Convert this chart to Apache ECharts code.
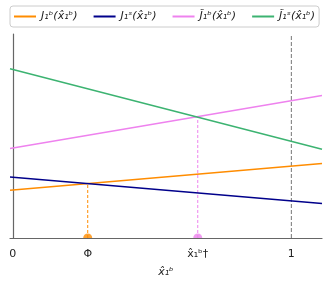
<!DOCTYPE html>
<html><head><meta charset="utf-8">
<script src="https://cdn.jsdelivr.net/npm/echarts@6/dist/echarts.min.js"></script>
<style>html,body{margin:0;padding:0;background:#fff}#c{width:333px;height:285px}</style>
</head><body><div id="c"></div>
<script>
var xEnds = [-0.01, 1.11];
var jb  = [0.234, 0.365];
var js  = [0.299, 0.169];
var jbt = [0.439, 0.699];
var jst = [0.830, 0.435];
var phi = 0.269, phiY = 0.266;
var xdag = 0.664, xdagY = 0.594;
var tickValues = [0, phi, xdag, 1];
var tickLabels = ['0', 'Φ', 'x̂₁ᵇ†', '1'];
var names = ['J₁ᵇ(x̂₁ᵇ)', 'J₁ˢ(x̂₁ᵇ)', 'J̃₁ᵇ(x̂₁ᵇ)', 'J̃₁ˢ(x̂₁ᵇ)'];
var colors = ['#ff8c00', '#00008b', '#ee82ee', '#3cb371'];
var vals = [jb, js, jbt, jst];

function pairs(ys){ return xEnds.map(function(x,i){return [x, ys[i]];}); }

var series = vals.map(function(v,i){
  return {name: names[i], type:'line', data: pairs(v), symbol:'none',
    lineStyle:{color:colors[i], width:1.5}, itemStyle:{color:colors[i]}, z:3};
});
series.push({type:'line', data:[[phi,0],[phi,phiY]], symbol:'none',
  lineStyle:{color:colors[0], width:1, type:[3,2]}, z:2});
series.push({type:'line', data:[[xdag,0],[xdag,xdagY]], symbol:'none',
  lineStyle:{color:colors[2], width:1, type:[3,2]}, z:2});
series.push({type:'line', data:[[1,0],[1,1]], symbol:'none',
  lineStyle:{color:'#777', width:1, type:[4,2]}, z:2});
var half = 'path://M0,10 A10,10 0 0 1 20,10 Z';
series.push({type:'scatter', data:[[phi,0]], symbol:half, symbolSize:[9,4.5], symbolOffset:[0,'-50%'],
  itemStyle:{color:colors[0]}, z:4});
series.push({type:'scatter', data:[[xdag,0]], symbol:half, symbolSize:[9,4.5], symbolOffset:[0,'-50%'],
  itemStyle:{color:colors[2]}, z:4});

var chart = echarts.init(document.getElementById('c'));
chart.setOption({
  animation:false,
  grid:{left:10, right:11, top:34, bottom:47, containLabel:false},
  legend:{data:names, top:6, left:10, right:11, width:312,
    itemWidth:22, itemHeight:2, itemGap:16,
    borderColor:'#ccc', borderWidth:1, borderRadius:3, padding:[5,4],
    icon:'rect',
    textStyle:{fontFamily:'DejaVu Sans', fontStyle:'italic', fontSize:11, color:'#222'}},
  xAxis:{type:'value', min:xEnds[0], max:xEnds[1],
    name:'x̂₁ᵇ', nameLocation:'middle', nameGap:29,
    nameTextStyle:{fontFamily:'DejaVu Sans', fontStyle:'italic', fontSize:11, color:'#222'},
    axisLine:{lineStyle:{color:'#666', width:1.2}},
    axisTick:{show:false},
    splitLine:{show:false},
    axisLabel:{customValues:tickValues, margin:11,
      fontFamily:'DejaVu Sans', fontSize:11, color:'#222',
      formatter:function(v){ var i=tickValues.indexOf(v); return i>=0?tickLabels[i]:''; }}},
  yAxis:{type:'value', min:0, max:1,
    axisLine:{show:true, lineStyle:{color:'#666', width:1.2}},
    axisTick:{show:false}, axisLabel:{show:false}, splitLine:{show:false}},
  series:series
});
</script></body></html>
